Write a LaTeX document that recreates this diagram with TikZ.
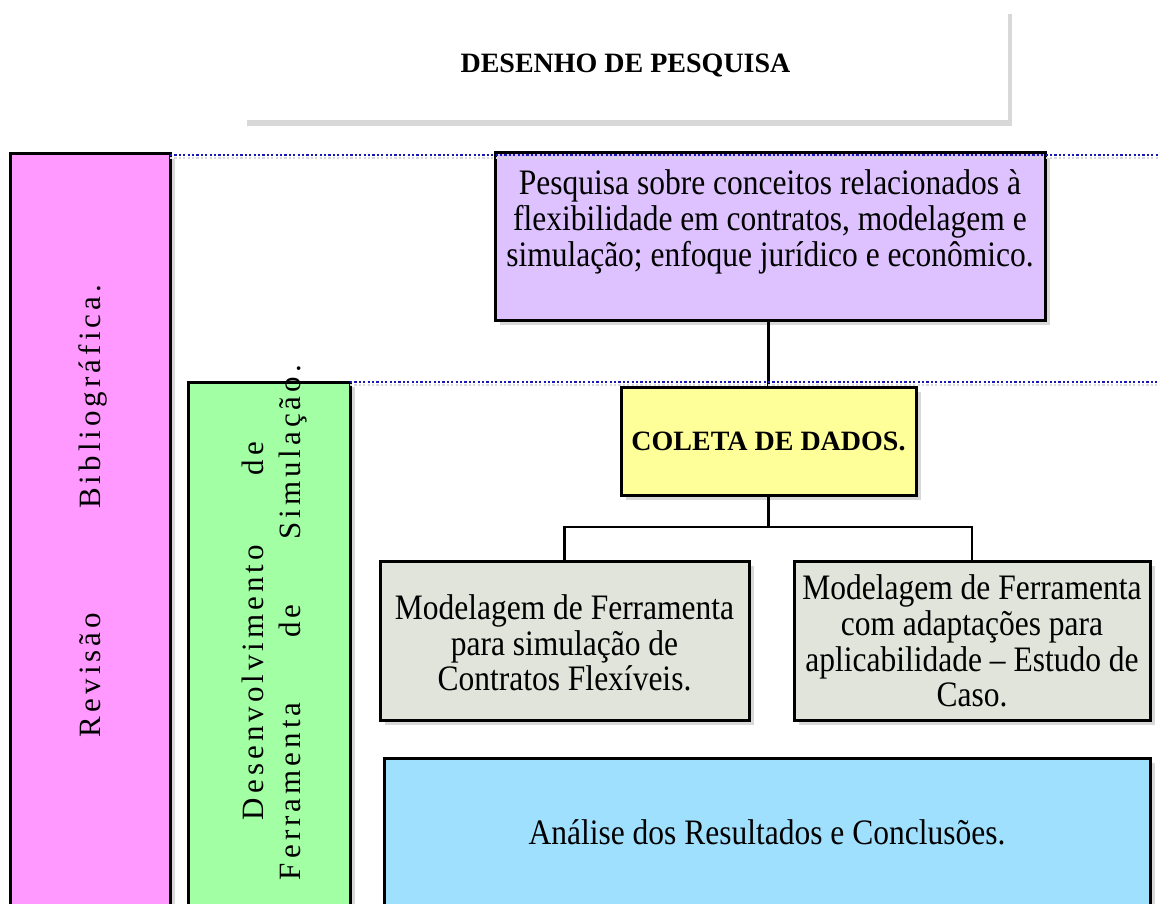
\documentclass[tikz,border=0pt]{standalone}
\usepackage{fontspec}
\setmainfont{Liberation Serif}
\newfontfamily\spacedfont{Liberation Serif}[LetterSpace=13]
\newfontfamily\bodyfont{Liberation Serif}[FakeStretch=0.88]
\usetikzlibrary{shadows}
\definecolor{pinkc}{HTML}{FF99FF}
\definecolor{greenc}{HTML}{A3FFA3}
\definecolor{purplec}{HTML}{DEC2FF}
\definecolor{yellowc}{HTML}{FFFF99}
\definecolor{grayc}{HTML}{E0E4DA}
\definecolor{bluec}{HTML}{A0E0FF}
\definecolor{navyc}{HTML}{1818B8}
\definecolor{shadowc}{HTML}{D8D8D8}
\tikzset{
  box/.style={draw=black, line width=3pt, inner sep=0pt, outer sep=0pt, anchor=north west,
    drop shadow={shadow xshift=5pt, shadow yshift=-5pt, fill=shadowc, opacity=1}},
  titlebox/.style={draw=none, fill=white, inner sep=0pt, outer sep=0pt, anchor=north west,
    drop shadow={shadow xshift=4pt, shadow yshift=-6pt, fill=shadowc, opacity=1}},
  bodytext/.style={align=center, inner sep=0pt, font=\bodyfont\fontsize{35.8}{35.7}\selectfont},
  vtext/.style={rotate=90, anchor=base, inner sep=0pt, font=\spacedfont\fontsize{31}{36}\selectfont},
  conn/.style={draw=black, line width=2.6pt},
  dotline/.style={draw=navyc, line width=1.8pt, dash pattern=on 2.2pt off 2.2pt},
  dotshadow/.style={draw=shadowc, line width=1.8pt, dash pattern=on 2.2pt off 2.2pt},
}
\begin{document}
\begin{tikzpicture}[x=1pt,y=-1pt]
\useasboundingbox (0,0) rectangle (1160,904);
\clip (0,0) rectangle (1160,904);
\fill[white] (0,0) rectangle (1160,904);

% title
\node[titlebox, minimum width=765pt, minimum height=112pt] (title) at (243,8) {};
\node[inner sep=0pt, font=\bfseries\fontsize{28}{33}\selectfont] (titletext) at (625.5,66) {DESENHO DE PESQUISA};

% left columns
\node[box, fill=pinkc, minimum width=160pt, minimum height=800pt] (rev) at (10,154) {};
\node[box, fill=greenc, minimum width=162pt, minimum height=600pt] (dev) at (188,382) {};

% boxes
\node[box, fill=purplec, minimum width=550pt, minimum height=167pt] (purple) at (495,153) {};
\node[box, fill=yellowc, minimum width=295pt, minimum height=108pt] (yellow) at (621,387) {};
\node[box, fill=grayc, minimum width=369pt, minimum height=159pt] (grayL) at (380,561) {};
\node[box, fill=grayc, minimum width=356pt, minimum height=159pt] (grayR) at (794,561) {};
\node[box, fill=bluec, minimum width=766pt, minimum height=300pt] (blue) at (384,758) {};

% connectors
\path (yellow.south) ++(0,32) coordinate (split);
\draw[conn] (purple.south -| yellow.north) -- (yellow.north);
\draw[conn] (yellow.south) -- (split);
\draw[conn] (grayL.north) |- (split) -| (grayR.north);

% texts
\node[bodytext] (ptext) at (770,222) {Pesquisa sobre conceitos relacionados à\\flexibilidade em contratos, modelagem e\\simulação; enfoque jurídico e econômico.};
\node[inner sep=0pt, font=\bfseries\fontsize{28}{33}\selectfont] (ytext) at (yellow.center) {COLETA DE DADOS.};
\node[bodytext] (gltext) at (564.5,643) {Modelagem de Ferramenta\\para simulação de\\Contratos Flexíveis.};
\node[bodytext] (grtext) at (972,641) {Modelagem de Ferramenta\\com adaptações para\\aplicabilidade – Estudo de\\Caso.};
\node[bodytext] (btext) at (767,832) {Análise dos Resultados e Conclusões.};

% rotated texts
\node[vtext] (revtext) at (100,511) {\hbox to 452pt{Revisão\hfill Bibliográfica.}};
\node[vtext] (devtext1) at (263,631) {\hbox to 378pt{Desenvolvimento\hfill de}};
\node[vtext] (devtext2) at (300,622.5) {\hbox to 515pt{Ferramenta\hfill de\hfill Simulação.}};

% dotted guide lines
\coordinate (d1a) at (170,155);
\coordinate (d1b) at (1160,155);
\coordinate (d2a) at (350,382);
\coordinate (d2b) at (1160,382);
\draw[dotshadow] ([yshift=-3pt]d1a) -- ([yshift=-3pt]d1b);
\draw[dotshadow] ([yshift=-3pt]d2a) -- ([yshift=-3pt]d2b);
\draw[dotline] (d1a) -- (d1b);
\draw[dotline] (d2a) -- (d2b);
\end{tikzpicture}
\end{document}
